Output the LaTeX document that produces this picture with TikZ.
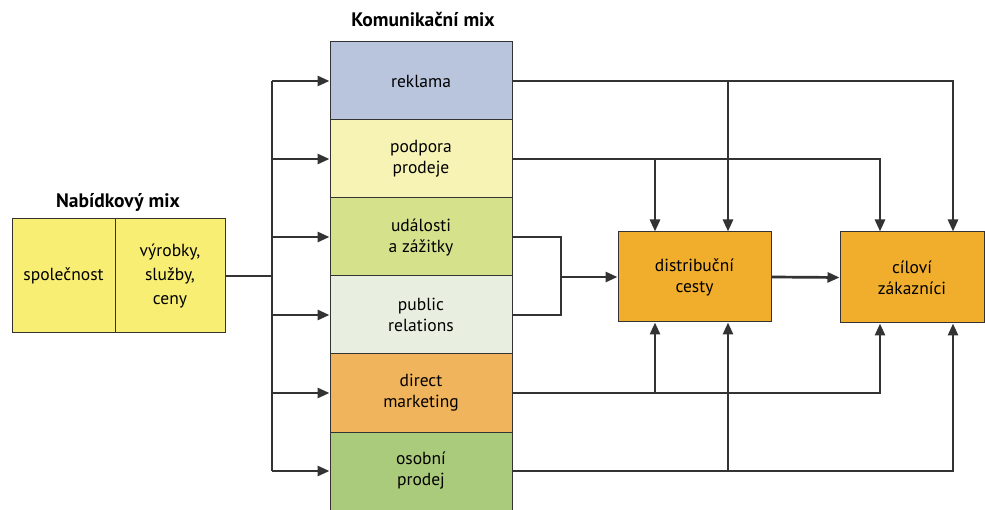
\documentclass[tikz,border=0pt]{standalone}
\usepackage{fontspec}
\setmainfont{PT Sans}
\usetikzlibrary{arrows.meta,calc}
\definecolor{linec}{HTML}{333333}
\definecolor{creklama}{HTML}{B8C5DD}
\definecolor{cpodpora}{HTML}{F7F3B4}
\definecolor{cudalosti}{HTML}{D6E18C}
\definecolor{cpublic}{HTML}{E9EFE0}
\definecolor{cdirect}{HTML}{F0B45C}
\definecolor{cosobni}{HTML}{ABCB7C}
\definecolor{cbox}{HTML}{F0AE2C}
\definecolor{cyel}{HTML}{F8EE74}
\begin{document}
\begin{tikzpicture}[x=1pt,y=-1pt,
  txt/.style={font=\fontsize{17.5}{21}\selectfont},
  row/.style={draw=linec, line width=1pt, minimum width=182pt, minimum height=78pt, inner sep=0pt, align=center, txt},
  box/.style={draw=linec, line width=1pt, fill=cbox, inner sep=0pt, align=center, txt},
  ybox/.style={draw=linec, line width=1pt, fill=cyel, minimum height=114pt, inner sep=0pt, align=center, font=\fontsize{17.5}{24}\selectfont},
  title/.style={font=\fontsize{19.5}{22}\selectfont\bfseries},
  conn/.style={draw=linec, line width=2.7pt},
  arr/.style={conn, -{Triangle[length=12pt,width=10pt]}}]
\useasboundingbox (0,0) rectangle (985,510);

% communication mix column
\node[title] (tkom) at (423,20) {Komunikační mix};
\node[row, fill=creklama] (r1) at (421,81) {reklama};
\node[row, fill=cpodpora] (r2) at (421,159) {podpora\\prodeje};
\node[row, fill=cudalosti] (r3) at (421,237) {události\\a zážitky};
\node[row, fill=cpublic] (r4) at (421,315) {public\\relations};
\node[row, fill=cdirect] (r5) at (421,393) {direct\\marketing};
\node[row, fill=cosobni] (r6) at (421,471) {osobní\\prodej};

% offer mix
\node[title] (tnab) at (118,202) {Nabídkový mix};
\node[ybox, minimum width=103pt] (spol) at (63.5,276) {společnost};
\node[ybox, minimum width=110pt] (prod) at (170,276) {výrobky,\\služby,\\ceny};

% distribution and customers
\node[box, minimum width=153pt, minimum height=90pt] (dist) at (694.5,277) {distribuční\\cesty};
\node[box, minimum width=144pt, minimum height=91pt] (cil) at (912,277.5) {cíloví\\zákazníci};

% bus on the left
\coordinate (bus) at (272,276);
\foreach \i/\y in {1/81,2/159,3/237,4/315,5/393,6/471} {\coordinate (b\i) at (272,\y);}
\draw[conn] (prod.east) -- (bus);
\draw[conn] (b1) -- (b6);
\foreach \i in {1,...,6} {\draw[arr] (b\i) -- (r\i.west);}

% right side
\coordinate (k1) at (953,81);
\coordinate (j1) at (728,81);
\coordinate (k2) at (880,159);
\coordinate (j2) at (655,159);
\coordinate (m3) at (561,237);
\coordinate (m4) at (561,315);
\coordinate (mm) at (561,277);
\coordinate (k5) at (880,393);
\coordinate (j5) at (655,393);
\coordinate (k6) at (953,471);
\coordinate (j6) at (728,471);

\draw[arr] (r1.east) -- (k1) -- (cil.north -| k1);
\draw[arr] (j1) -- (dist.north -| j1);
\draw[arr] (r2.east) -- (k2) -- (cil.north -| k2);
\draw[arr] (j2) -- (dist.north -| j2);
\draw[conn] (r3.east) -- (m3) -- (m4) -- (r4.east);
\draw[arr] (mm) -- (dist.west);
\draw[arr] (dist.east) -- (cil.west);
\draw[arr] (r5.east) -- (k5) -- (cil.south -| k5);
\draw[arr] (j5) -- (dist.south -| j5);
\draw[arr] (r6.east) -- (k6) -- (cil.south -| k6);
\draw[arr] (j6) -- (dist.south -| j6);
\end{tikzpicture}
\end{document}
